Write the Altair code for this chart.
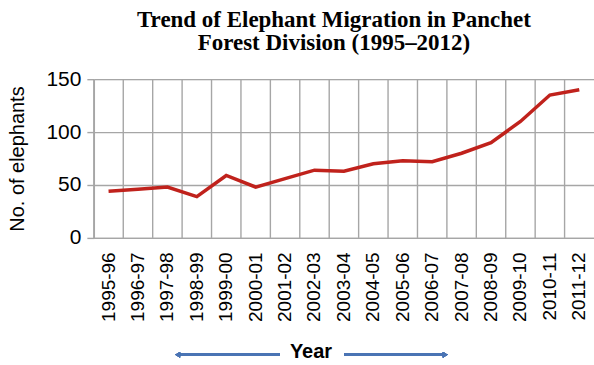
import altair as alt
import pandas as pd

years = ["1995-96", "1996-97", "1997-98", "1998-99", "1999-00", "2000-01",
         "2001-02", "2002-03", "2003-04", "2004-05", "2005-06", "2006-07",
         "2007-08", "2008-09", "2009-10", "2010-11", "2011-12"]
elephants = [44, 46, 48, 39, 59, 48, 56, 64, 63, 70, 73, 72, 80, 90, 110, 135, 140]
y_ticks = [0, 50, 100, 150]

df = pd.DataFrame({"year": years, "n": elephants})

GRID = "#a6a6a6"
W, H = 501, 159

x_scale = alt.Scale(paddingInner=0, paddingOuter=0)
y_scale = alt.Scale(domain=[0, 150], nice=False)

base = alt.Chart(df)

vgrid = base.mark_rule(color=GRID, strokeWidth=1.4).encode(
    x=alt.X("year:N", bandPosition=0, scale=x_scale, sort=years,
            axis=alt.Axis(
                title="Year", titleFont="Liberation Sans", titleFontSize=20,
                titleFontWeight="bold", titleColor="#000000",
                titleX=217, titleY=104, titleAnchor="middle",
                labelAngle=-90, labelFont="Liberation Sans", labelFontSize=19,
                labelColor="#000000", labelPadding=14, ticks=False,
                domainColor=GRID, domainWidth=1.4, grid=False,
                labelBound=False, labelOverlap=False)),
)

line = base.mark_line(color="#c0221c", strokeWidth=3.5, strokeJoin="miter").encode(
    x=alt.X("year:N", scale=x_scale, sort=years),
    y=alt.Y("n:Q", scale=y_scale,
            axis=alt.Axis(
                values=y_ticks, title="No. of elephants",
                titleFont="Liberation Sans", titleFontSize=20,
                titleFontWeight="normal", titleColor="#000000", titlePadding=18,
                labelFont="Liberation Sans", labelFontSize=21,
                labelColor="#000000", labelPadding=6,
                tickColor=GRID, tickSize=7, tickWidth=1.4,
                gridColor=GRID, gridWidth=1.4, grid=True,
                domainColor=GRID, domainWidth=1.4)),
)

ARROW = "#4a74b4"
arrow_l = alt.Chart(df).mark_rule(color=ARROW, strokeWidth=2.5).encode(
    x=alt.value(86), x2=alt.value(186), y=alt.value(276))
arrow_r = alt.Chart(df).mark_rule(color=ARROW, strokeWidth=2.5).encode(
    x=alt.value(251), x2=alt.value(350), y=alt.value(276))
head_l = alt.Chart(df).mark_point(shape="triangle-left", filled=True, color=ARROW,
                                  size=30, opacity=1).encode(
    x=alt.value(84), y=alt.value(276))
head_r = alt.Chart(df).mark_point(shape="triangle-right", filled=True, color=ARROW,
                                  size=30, opacity=1).encode(
    x=alt.value(352), y=alt.value(276))

chart = alt.layer(vgrid, line, arrow_l, arrow_r, head_l, head_r).properties(
    width=W, height=H,
    title=alt.TitleParams(
        text=["Trend of Elephant Migration in Panchet", "Forest Division (1995–2012)"],
        font="Liberation Serif", fontSize=23, fontWeight="bold", color="#000000",
        anchor="middle", lineHeight=23.5, offset=13, dx=-10),
    padding={"left": 94, "top": 79, "right": 0, "bottom": 127},
    autosize=alt.AutoSizeParams(type="none"),
).configure_view(stroke=None).configure(background="#ffffff")

chart.save("out.html", embed_options={"renderer": "svg", "actions": False})
